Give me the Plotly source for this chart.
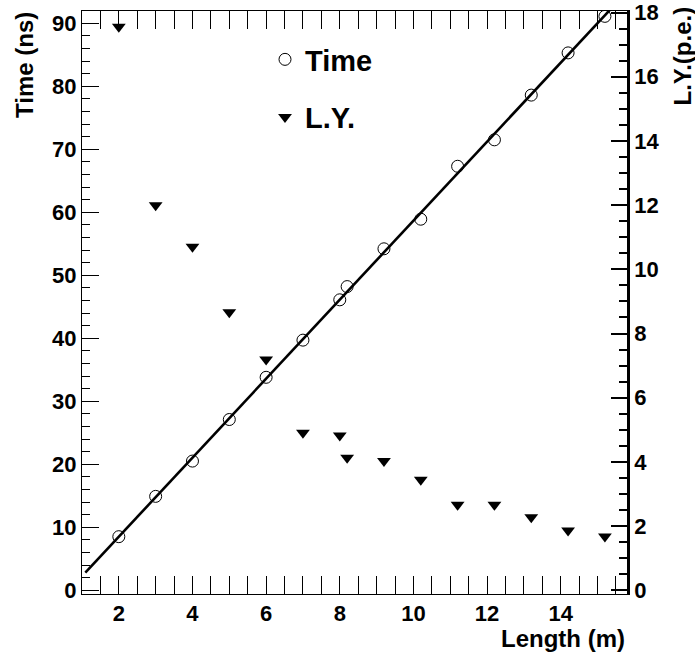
import numpy as np
import plotly.graph_objects as go

# ---- data ----
length_m = [2, 3, 4, 5, 6, 7, 8, 8.2, 9.2, 10.2, 11.2, 12.2, 13.2, 14.2, 15.2]
time_ns = [8.5, 14.9, 20.5, 27.1, 33.8, 39.7, 46.1, 48.2, 54.2, 58.9, 67.3, 71.5, 78.6, 85.3, 91.1]
light_yield_pe = [17.56, 12.0, 10.70, 8.66, 7.19, 4.91, 4.82, 4.13, 4.03, 3.44, 2.66, 2.66, 2.27, 1.86, 1.67]

# linear fit of time vs length
FIT_XMIN, FIT_XMAX = 1.09, 15.8
slope, intercept = np.polyfit(length_m, time_ns, 1)
fit_x = np.array([FIT_XMIN, FIT_XMAX])
fit_y = slope * fit_x + intercept

FONT = "Liberation Sans, Arial, Helvetica, sans-serif"
W, H = 695, 657
L, R, T, B = 82, 68, 11, 63
PW, PH = W - L - R, H - T - B

fig = go.Figure()

fig.add_trace(go.Scatter(
    x=fit_x, y=fit_y, mode="lines",
    line=dict(color="black", width=2.6),
    showlegend=False, hoverinfo="skip"))

fig.add_trace(go.Scatter(
    x=length_m, y=time_ns, mode="markers", name="Time",
    legendgroup="a",
    marker=dict(symbol="circle-open", size=12, color="black",
                line=dict(width=1, color="black"))))

fig.add_trace(go.Scatter(
    x=length_m, y=light_yield_pe, mode="markers", name="L.Y.",
    legendgroup="b", yaxis="y2",
    marker=dict(symbol="triangle-down", size=12, color="black")))

tickfont = dict(family=FONT, size=22, color="black", weight="bold")

fig.update_layout(
    width=W, height=H,
    margin=dict(l=L, r=R, t=T, b=B, pad=0, autoexpand=False),
    paper_bgcolor="white", plot_bgcolor="white",
    showlegend=True,
    legend=dict(
        x=(265 - L) / PW, y=(594 - 34) / PH,
        xanchor="left", yanchor="top",
        bgcolor="rgba(0,0,0,0)", borderwidth=0,
        font=dict(family=FONT, size=29, color="black", weight="bold"),
        tracegroupgap=17, itemsizing="trace"),
    xaxis=dict(
        range=[1.0, 15.8], tick0=0, dtick=2,
        showline=True, linecolor="black", linewidth=1, mirror="allticks",
        ticks="inside", ticklen=18, tickwidth=1, tickcolor="black",
        minor=dict(dtick=0.5, ticks="inside", ticklen=8, tickwidth=1,
                   tickcolor="black", showgrid=False),
        showgrid=False, zeroline=False, tickfont=tickfont),
    yaxis=dict(
        range=[-0.6, 91.95], tick0=0, dtick=10,
        showline=True, linecolor="black", linewidth=1, mirror=False,
        ticks="inside", ticklen=17, tickwidth=1, tickcolor="black",
        minor=dict(dtick=2, ticks="inside", ticklen=8, tickwidth=1,
                   tickcolor="black", showgrid=False),
        showgrid=False, zeroline=False, tickfont=tickfont),
    yaxis2=dict(
        range=[-0.118, 18.05], tick0=0, dtick=2, overlaying="y", side="right",
        showline=True, linecolor="black", linewidth=2.5,
        ticks="inside", ticklen=16, tickwidth=2, tickcolor="black",
        minor=dict(dtick=0.5, ticks="inside", ticklen=8, tickwidth=2,
                   tickcolor="black", showgrid=False),
        showgrid=False, zeroline=False, tickfont=tickfont),
    annotations=[
        dict(text="Length (m)", xref="paper", yref="paper",
             x=1.0, y=(594 - 638) / PH, xanchor="right", yanchor="middle",
             showarrow=False,
             font=dict(family=FONT, size=24, color="black", weight="bold")),
        dict(text="Time (ns)", xref="paper", yref="paper", textangle=-90,
             x=(24 - L) / PW, y=(594 - 10) / PH,
             xanchor="center", yanchor="top", showarrow=False,
             font=dict(family=FONT, size=24, color="black", weight="bold")),
        dict(text="L.Y.(p.e.)", xref="paper", yref="paper", textangle=-90,
             x=(682 - L) / PW, y=(594 - 5) / PH,
             xanchor="center", yanchor="top", showarrow=False,
             font=dict(family=FONT, size=24, color="black", weight="bold")),
    ],
)

fig.write_html("out.html",
               config={"displayModeBar": False},
               post_script="document.body.style.margin='0';document.body.style.padding='0';")
